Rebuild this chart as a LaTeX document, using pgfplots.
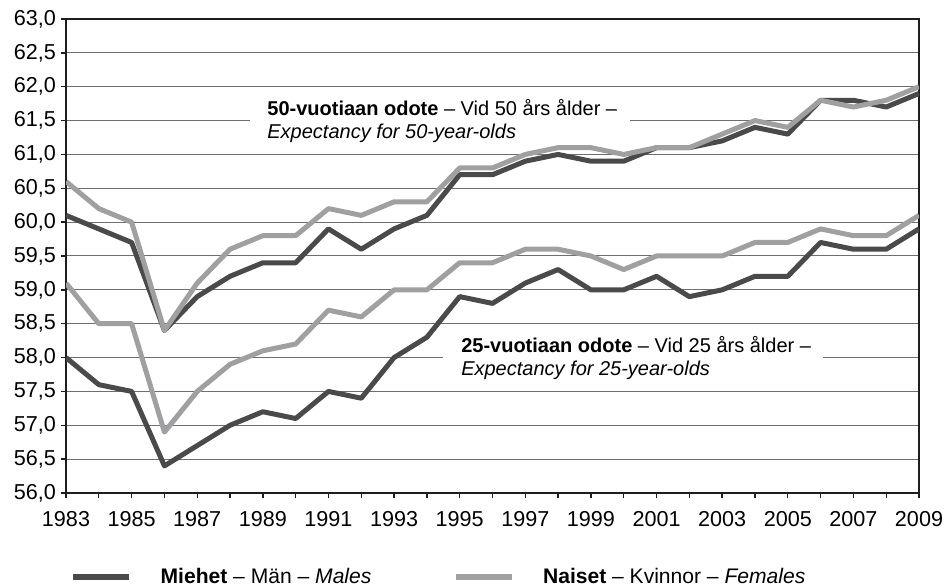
\documentclass[border=0pt]{standalone}
\usepackage{pgfplots}
\pgfplotsset{compat=1.18}
\usepackage{fontspec}
\setmainfont{Liberation Sans}
\definecolor{dark}{RGB}{74,74,74}
\definecolor{light}{RGB}{160,160,162}
\definecolor{gridc}{RGB}{110,110,110}
\definecolor{axc}{RGB}{30,30,30}
\newcommand{\ff}{\fontsize{15pt}{17.25pt}\selectfont}
\newcommand{\tf}{\fontsize{16.2pt}{19pt}\selectfont}
\newcommand{\lf}{\fontsize{15.8pt}{19pt}\selectfont}

\begin{document}
\begin{tikzpicture}
\begin{axis}[
  scale only axis, width=639.75pt, height=355.5pt,
  xmin=1983, xmax=2009, ymin=56, ymax=63,
  xtick={1983,1985,...,2009}, minor xtick={1984,1986,...,2008},
  ytick={56,56.5,...,63},
  ymajorgrids, major grid style={gridc, line width=0.75pt},
  tick align=outside, tick pos=left,
  major tick length=4pt, minor tick length=4pt,
  every tick/.style={axc, line width=1pt},
  axis line style={axc, line width=1.5pt},
  /pgf/number format/assume math mode=true,
  ticklabel style={font=\tf},
  yticklabel style={/pgf/number format/.cd, fixed, fixed zerofill, precision=1, use comma},
  xticklabel style={yshift=-6.5pt, /pgf/number format/.cd, 1000 sep={}},
  legend columns=2,
  legend style={draw=none, fill=none, at={(axis description cs:0.0047,-0.177)}, anchor=west,
    inner sep=0pt, outer sep=0pt, font=\lf, nodes={inner sep=0pt},
    /tikz/every odd column/.append style={column sep=21pt},
    /tikz/every even column/.append style={column sep=60.75pt}},
  legend image code/.code={\draw[#1, line width=5pt, line cap=butt] (0pt,0pt) -- (42pt,0pt);},
  every axis plot/.append style={line width=3.75pt, line join=round, mark=none},
]
% annotation boxes
\fill[white] (axis cs:1988.61,61.17) rectangle (axis cs:2000.19,61.88);
\node[anchor=west, align=left, inner sep=0pt, font=\ff] at (axis cs:1989.13,61.50)
  {\textbf{50-vuotiaan odote} – Vid 50 års ålder –\\\textit{Expectancy for 50-year-olds}};
\fill[white] (axis cs:1994.49,57.65) rectangle (axis cs:2006.07,58.36);
\node[anchor=west, align=left, inner sep=0pt, font=\ff] at (axis cs:1995.04,57.99)
  {\textbf{25-vuotiaan odote} – Vid 25 års ålder –\\\textit{Expectancy for 25-year-olds}};

% 50-year-olds, males
\addplot[dark] coordinates {
(1983,60.1) (1984,59.9) (1985,59.7) (1986,58.4) (1987,58.9) (1988,59.2) (1989,59.4)
(1990,59.4) (1991,59.9) (1992,59.6) (1993,59.9) (1994,60.1) (1995,60.7) (1996,60.7)
(1997,60.9) (1998,61.0) (1999,60.9) (2000,60.9) (2001,61.1) (2002,61.1) (2003,61.2)
(2004,61.4) (2005,61.3) (2006,61.8) (2007,61.8) (2008,61.7) (2009,61.9)};
\addlegendentry{\textbf{Miehet} – Män – \textit{Males}}
% 50-year-olds, females
\addplot[light] coordinates {
(1983,60.6) (1984,60.2) (1985,60.0) (1986,58.4) (1987,59.1) (1988,59.6) (1989,59.8)
(1990,59.8) (1991,60.2) (1992,60.1) (1993,60.3) (1994,60.3) (1995,60.8) (1996,60.8)
(1997,61.0) (1998,61.1) (1999,61.1) (2000,61.0) (2001,61.1) (2002,61.1) (2003,61.3)
(2004,61.5) (2005,61.4) (2006,61.8) (2007,61.7) (2008,61.8) (2009,62.0)};
\addlegendentry{\textbf{Naiset} – Kvinnor – \textit{Females}}
% 25-year-olds, males
\addplot[dark, forget plot] coordinates {
(1983,58.0) (1984,57.6) (1985,57.5) (1986,56.4) (1987,56.7) (1988,57.0) (1989,57.2)
(1990,57.1) (1991,57.5) (1992,57.4) (1993,58.0) (1994,58.3) (1995,58.9) (1996,58.8)
(1997,59.1) (1998,59.3) (1999,59.0) (2000,59.0) (2001,59.2) (2002,58.9) (2003,59.0)
(2004,59.2) (2005,59.2) (2006,59.7) (2007,59.6) (2008,59.6) (2009,59.9)};
% 25-year-olds, females
\addplot[light, forget plot] coordinates {
(1983,59.1) (1984,58.5) (1985,58.5) (1986,56.9) (1987,57.5) (1988,57.9) (1989,58.1)
(1990,58.2) (1991,58.7) (1992,58.6) (1993,59.0) (1994,59.0) (1995,59.4) (1996,59.4)
(1997,59.6) (1998,59.6) (1999,59.5) (2000,59.3) (2001,59.5) (2002,59.5) (2003,59.5)
(2004,59.7) (2005,59.7) (2006,59.9) (2007,59.8) (2008,59.8) (2009,60.1)};

\coordinate (imgSW) at ([shift={(-49.5pt,-70.5pt)}]rel axis cs:0,0);
\coordinate (imgNE) at ([shift={(19.5pt,14.25pt)}]rel axis cs:1,1);
\end{axis}
\pgfresetboundingbox
\useasboundingbox (imgSW) rectangle (imgNE);
\end{tikzpicture}
\end{document}
